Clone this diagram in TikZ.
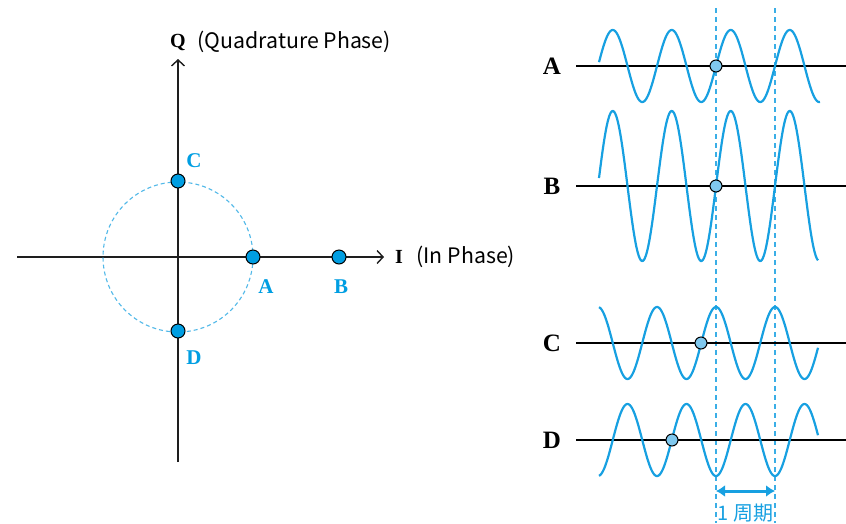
\documentclass[tikz,border=0pt]{standalone}
\usepackage{fontspec}
\setmainfont{Liberation Serif}
\newfontfamily\jpfont{Noto Sans CJK JP}
\usetikzlibrary{arrows.meta}
\definecolor{wblue}{RGB}{23,160,225}
\definecolor{dotblue}{RGB}{0,158,226}
\definecolor{lightdot}{RGB}{128,200,238}
\definecolor{axisgray}{RGB}{30,30,30}
\begin{document}
\begin{tikzpicture}[x=1pt, y=-1pt, >={Straight Barb[length=6pt,width=13pt]},
  axis/.style={draw=axisgray, line width=1.4pt},
  wave/.style={draw=wblue, line width=2.2pt},
  guide/.style={draw=wblue!85, line width=1.3pt, dash pattern=on 5pt off 4pt},
  pt/.style={circle, draw=black, line width=1pt, fill=dotblue, minimum size=14pt, inner sep=0pt},
  ptw/.style={circle, draw=black, line width=1pt, fill=lightdot, minimum size=12pt, inner sep=0pt},
  lab/.style={font=\fontsize{21}{24}\selectfont\bfseries, text=dotblue},
  wlab/.style={font=\fontsize{25}{28}\selectfont\bfseries},
  sans/.style={font=\jpfont\fontsize{21.3}{25}\selectfont}]
\useasboundingbox (0,0) rectangle (846,523);
% IQ plane
\coordinate (o) at (178,257);
\coordinate (iw) at (17,257);
\coordinate (ie) at (384,257);
\coordinate (qs) at (178,462);
\coordinate (qn) at (178,59);
\draw[axis, ->] (iw) -- (ie);
\draw[axis, ->] (qs) -- (qn);
\draw[guide, draw=wblue!75, line width=1.1pt, dash pattern=on 4pt off 3pt] (o) circle[radius=75];
\node[pt] (pa) at (253,257) {};
\node[pt] (pb) at (339,257) {};
\node[pt] (pc) at (178,181) {};
\node[pt] (pd) at (178,331) {};
\node[lab] (la) at (266,287) {A};
\node[lab] (lb) at (341,287) {B};
\node[lab] (lc) at (194,161) {C};
\node[lab] (ld) at (194,358) {D};
\node[font=\fontsize{20}{23}\selectfont\bfseries] (q) at (178,42) {Q};
\node[sans, anchor=west] (qt) at (194,42) {(Quadrature Phase)};
\node[font=\fontsize{20}{23}\selectfont\bfseries] (i) at (399,257) {I};
\node[sans, anchor=west] (it) at (413,257) {(In Phase)};
% period guides
\coordinate (g1) at (716,8);
\coordinate (g2) at (775,8);
\coordinate (g1b) at (716,523);
\coordinate (g2b) at (775,523);
\draw[guide] (g1) -- (g1b);
\draw[guide] (g2) -- (g2b);
% waves
\foreach \name/\yy in {A/66, B/186, C/343, D/440} {
  \node[wlab] (w\name) at (552,\yy) {\name};
  \draw[axis, line width=1.3pt, draw=black] (576,\yy) -- (846,\yy);
}
\draw[wave] plot[domain=599:820, samples=300] (\x,{66-36*sin((\x-716)/59*360)});
\draw[wave] plot[domain=599:818, samples=300] (\x,{186-75*sin((\x-716)/59*360)});
\draw[wave] plot[domain=599:818, samples=300] (\x,{343-36*cos((\x-716)/59*360)});
\draw[wave] plot[domain=599:818, samples=300] (\x,{440+36*cos((\x-716)/59*360)});
\node[ptw] (sa) at (716,66) {};
\node[ptw] (sb) at (716,186) {};
\node[ptw] (sc) at (701,343) {};
\node[ptw] (sd) at (672,440) {};
% one period
\coordinate (pl) at (716,491);
\coordinate (pr) at (775,491);
\draw[wblue, line width=3pt, {Latex[length=9pt,width=12pt]}-{Latex[length=9pt,width=12pt]}] (pl) -- (pr);
\node[text=wblue, font=\jpfont\fontsize{20}{22}\selectfont] (per) at (745.5,513) {1 周期};
\end{tikzpicture}
\end{document}
